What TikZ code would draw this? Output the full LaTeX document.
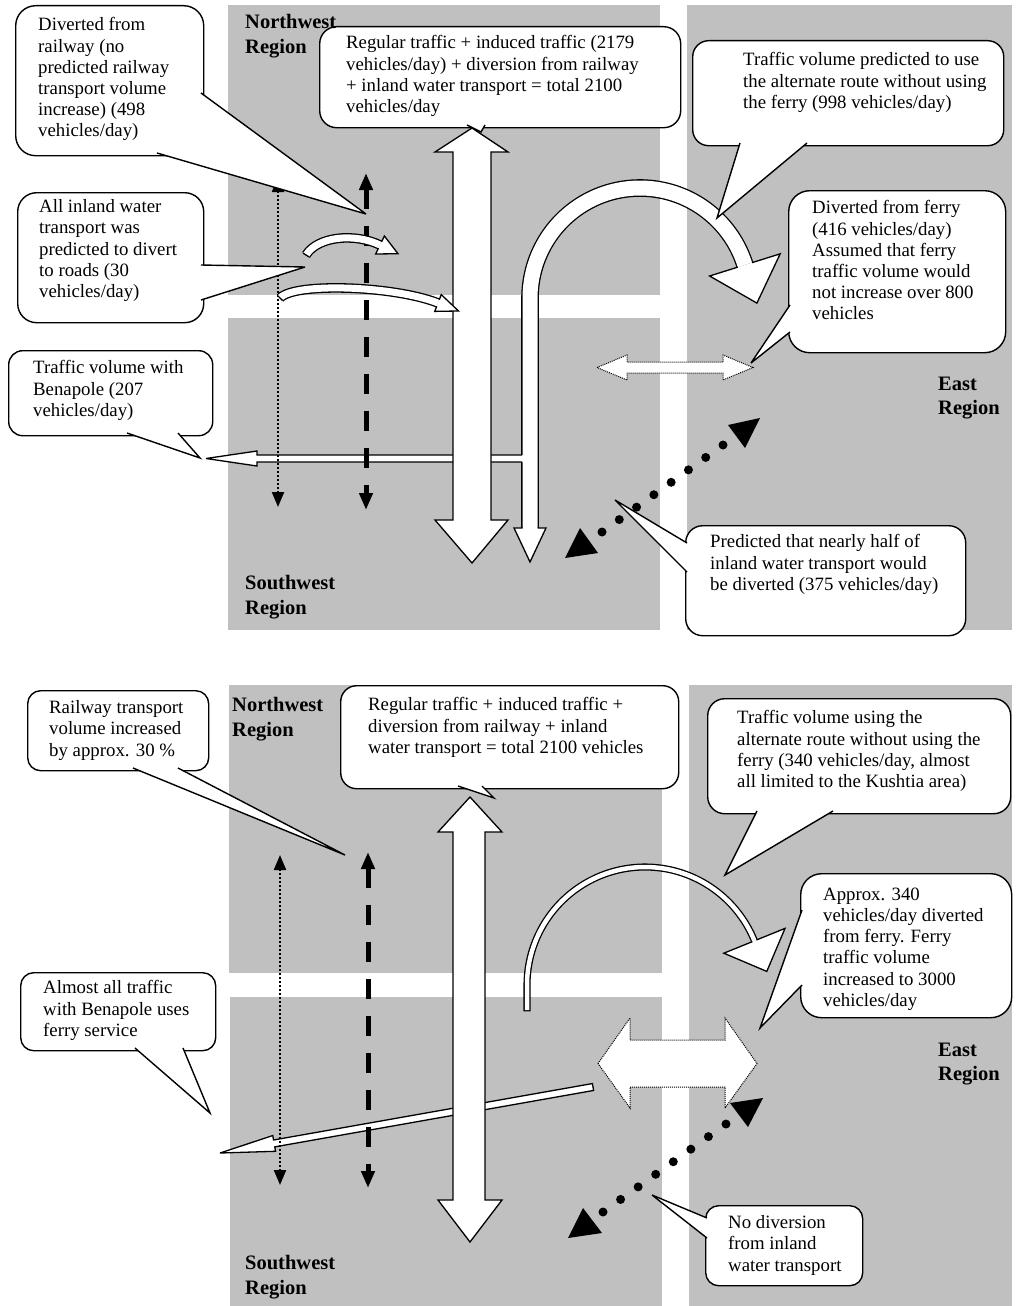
\documentclass[tikz,border=0pt]{standalone}
\usepackage{fontspec}
\setmainfont{Liberation Serif}
\usetikzlibrary{calc,arrows.meta}
\definecolor{regiongrey}{HTML}{C0C0C0}
\newcommand\calltail[3]{%
  \fill[white] (#1) -- (#2) -- (#3) -- cycle;
  \draw[tailline] (#1) -- (#2) -- (#3);}
\newcommand\hhead[4]{%
  \fill[white] ($(#1)!#3!90:(#2)$) -- ($(#1)!#4!90:(#2)$) -- (#2) -- ($(#1)!#4!-90:(#2)$) -- ($(#1)!#3!-90:(#2)$) -- cycle;
  \draw[outl] ($(#1)!#3!90:(#2)$) -- ($(#1)!#4!90:(#2)$) -- (#2) -- ($(#1)!#4!-90:(#2)$) -- ($(#1)!#3!-90:(#2)$);}
\begin{document}
\begin{tikzpicture}[x=1pt,y=-1pt,
  region/.style={fill=regiongrey, draw=none},
  cbox/.style={draw=black, fill=white, line width=1.4pt, inner sep=0pt, anchor=north west},
  ctext/.style={inner sep=0pt, anchor=north west, align=left, font=\fontsize{18.8}{21.2}\selectfont},
  rlabel/.style={inner sep=0pt, anchor=north west, align=left, font=\fontsize{20.5}{24.5}\selectfont\bfseries},
  outl/.style={draw=black, line width=1.3pt, line join=miter, miter limit=4},
  tailline/.style={draw=black, line width=1.4pt, line join=miter, miter limit=5},
  thindot/.style={line width=2.2pt, dash pattern=on 2pt off 2pt, {Triangle[width=12pt,length=15pt]}-{Triangle[width=12pt,length=15pt]}},
  thickdash/.style={line width=5pt, dash pattern=on 20pt off 17pt, {Triangle[width=13pt,length=17pt]}-{Triangle[width=13pt,length=17pt]}},
  bigdots/.style={line width=9pt, line cap=round},
  fineoutl/.style={draw=black, line width=1pt, dash pattern=on 1pt off 1pt, fill=white},
]
\useasboundingbox (0,0) rectangle (1015,1306);
\fill[white] (0,0) rectangle (1015,1306);

% ================= regions =================
\fill[region] (228,5) rectangle (660,295);
\fill[region] (228,318) rectangle (660,630);
\fill[region] (687,5) rectangle (1012,630);
\fill[region] (229,685) rectangle (662,973);
\fill[region] (230,997) rectangle (662,1306);
\fill[region] (689,685) rectangle (1012,1306);

% ================= TOP PANEL =================
% U-turn arrow
\draw[line width=17.6pt] (530,528) -- plot[domain=180:17.5,samples=90] ({640+110*cos(\x)},{298-110*sin(\x)});
\draw[line width=15pt, white] (530,528) -- plot[domain=180:17.5,samples=90] ({640+110*cos(\x)},{298-110*sin(\x)});
\hhead{530,528}{530,562}{7.5pt}{16pt}
\hhead{744.9,264.9}{756.9,303.1}{7.5pt}{37pt}
% Benapole arrow branching off the U-turn stem
\fill[white] (525,455) -- (257,455) -- (257,451) -- (206,458.5) -- (257,466) -- (257,462) -- (525,462) -- cycle;
\draw[outl] (522,455) -- (257,455) -- (257,451) -- (206,458.5) -- (257,466) -- (257,462) -- (522,462);
% big double arrow
\draw[outl, fill=white] (472,128) -- (508,152) -- (491,152) -- (491,520) -- (508,520) -- (472,563) -- (435,520) -- (453,520) -- (453,152) -- (435,152) -- cycle;
% railway arrows
\coordinate (a1t) at (278,177); \coordinate (a1b) at (278,507);
\draw[thindot] (a1t) -- (a1b);
\coordinate (a2t) at (366,173); \coordinate (a2b) at (366,510);
\draw[thickdash] (a2t) -- (a2b);
% small curved arrows (inland water transport)
\draw[line width=9.6pt] (306,255) .. controls (318,236) and (355,233) .. (380,245);
\draw[line width=7pt, white] (306,255) .. controls (318,236) and (355,233) .. (380,245);
\draw[outl] ($(306,255)!3.5pt!90:(318,236)$) -- ($(306,255)!3.5pt!-90:(318,236)$);
\hhead{380,245}{398,253.7}{3.5pt}{10pt}
\draw[line width=9.6pt] (280,298) .. controls (295,282) and (395,286) .. (438,303);
\draw[line width=7pt, white] (280,298) .. controls (295,282) and (395,286) .. (438,303);
\draw[outl] ($(280,298)!3.5pt!90:(295,282)$) -- ($(280,298)!3.5pt!-90:(295,282)$);
\hhead{438,303}{458.5,311}{3.5pt}{9pt}
% ferry double arrow (dotted outline)
\draw[fineoutl] (597,367.5) -- (627,355) -- (627,362) -- (723,362) -- (723,355) -- (753,367.5) -- (723,380) -- (723,373) -- (627,373) -- (627,380) -- cycle;
% inland water (big dots)
\draw[bigdots, dash pattern=on 0pt off 21.29pt] (602,532) -- (723.3,444.8);
\fill (760,418) -- (728,425) -- (745,448) -- cycle;
\fill (565,558) -- (598,553) -- (580,528) -- cycle;

% callouts top
\node[cbox, rounded corners=20pt, minimum width=188pt, minimum height=150pt] (c1) at (15,5) {};
\calltail{201,93}{366,214}{157,153}
\node[ctext] (c1t) at (38,17.5) {Diverted from\\railway (no\\predicted railway\\transport volume\\increase) (498\\vehicles/day)};

\node[cbox, rounded corners=19pt, minimum width=186pt, minimum height=130pt] (c2) at (17,192) {};
\calltail{201,265}{305,267}{201,300}
\node[ctext] (c2t) at (39,199.5) {All inland water\\transport was\\predicted to divert\\to roads (30\\vehicles/day)};

\node[cbox, rounded corners=17pt, minimum width=361pt, minimum height=101pt] (c3) at (319,26) {};
\calltail{467,125}{481,132}{485,125}
\node[ctext] (c3t) at (346,35.5) {Regular traffic + induced traffic (2179\\vehicles/day) + diversion from railway\\+ inland water transport = total 2100\\vehicles/day};

\node[cbox, rounded corners=16pt, minimum width=311pt, minimum height=105pt] (c4) at (692,40) {};
\calltail{740,143}{717,218}{807,143}
\node[ctext] (c4t) at (743,52.5) {Traffic volume predicted to use\\the alternate route without using\\the ferry (998 vehicles/day)};

\node[cbox, rounded corners=21pt, minimum width=217pt, minimum height=162pt] (c5) at (788,190) {};
\calltail{790,305}{751,363}{790,332}
\node[ctext] (c5t) at (812,200.5) {Diverted from ferry\\(416 vehicles/day)\\Assumed that ferry\\traffic volume would\\not increase over 800\\vehicles};

\node[cbox, rounded corners=14pt, minimum width=204pt, minimum height=85pt] (c6) at (8,350) {};
\calltail{127,433}{200,458}{178,433}
\node[ctext] (c6t) at (33,360.5) {Traffic volume with\\Benapole (207\\vehicles/day)};

\node[cbox, rounded corners=17pt, minimum width=280pt, minimum height=110pt] (c7) at (685,525) {};
\calltail{687,543}{615,500}{687,572}
\node[ctext] (c7t) at (710,534.5) {Predicted that nearly half of\\inland water transport would\\be diverted (375 vehicles/day)};

% region labels top
\node[rlabel] (nw1) at (245,14.5) {Northwest\\Region};
\node[rlabel] (sw1) at (245,575.5) {Southwest\\Region};
\node[rlabel] (e1) at (938,376.5) {East\\Region};

% ================= BOTTOM PANEL =================
% Benapole slanted arrow
\coordinate (b5s) at (593,1087); \coordinate (b5t) at (220,1153);
\coordinate (b5h) at ($(b5t)!55pt!(b5s)$);
\draw[outl, fill=white] ($(b5s)!3.5pt!90:(b5t)$) -- ($(b5h)!3.5pt!90:(b5t)$) -- ($(b5h)!8pt!90:(b5t)$) -- (b5t) -- ($(b5h)!8pt!-90:(b5t)$) -- ($(b5h)!3.5pt!-90:(b5t)$) -- ($(b5s)!3.5pt!-90:(b5t)$) -- cycle;
% big double arrow
\draw[outl, fill=white] (470,797) -- (502,832) -- (485,832) -- (485,1200) -- (502,1200) -- (470,1242) -- (438,1200) -- (453,1200) -- (453,832) -- (438,832) -- cycle;
% thin U arc
\draw[line width=7.1pt] (527,1011.3) -- plot[domain=180:22,samples=90] ({645+118*cos(\x)},{985-118*sin(\x)});
\draw[line width=4.5pt, white] (527,1010) -- plot[domain=180:22,samples=90] ({645+118*cos(\x)},{985-118*sin(\x)});
\hhead{754.4,940.8}{766.8,971.4}{2.25pt}{33pt}
% railway arrows
\coordinate (b1t) at (280,855); \coordinate (b1b) at (280,1185);
\draw[thindot] (b1t) -- (b1b);
\coordinate (b2t) at (368,852); \coordinate (b2b) at (368,1188);
\draw[thickdash] (b2t) -- (b2b);
% ferry double arrow (dotted outline)
\draw[fineoutl] (598,1063.5) -- (630,1018) -- (630,1040) -- (725,1040) -- (725,1018) -- (757,1063.5) -- (725,1108) -- (725,1087) -- (630,1087) -- (630,1108) -- cycle;
% inland water (big dots)
\draw[bigdots, dash pattern=on 0pt off 21.6pt] (603,1212) -- (726.3,1123.8);
\fill (763,1098) -- (730,1103) -- (748,1127) -- cycle;
\fill (568,1238) -- (602,1233) -- (583,1208) -- cycle;

% callouts bottom
\node[cbox, rounded corners=13pt, minimum width=181pt, minimum height=80pt] (c8) at (27,690) {};
\calltail{133,768}{345,855}{178,768}
\node[ctext] (c8t) at (49,700.5) {Railway transport\\volume increased\\by approx. 30 \%};

\node[cbox, rounded corners=16pt, minimum width=338pt, minimum height=103pt] (c9) at (340,685) {};
\calltail{458,786}{494,798}{482,786}
\node[ctext] (c9t) at (368,697.5) {Regular traffic + induced traffic +\\diversion from railway + inland\\water transport = total 2100 vehicles};

\node[cbox, rounded corners=17pt, minimum width=303pt, minimum height=115pt] (c10) at (707,698) {};
\calltail{757,811}{725,875}{833,811}
\node[ctext] (c10t) at (737,710.5) {Traffic volume using the\\alternate route without using the\\ferry (340 vehicles/day, almost\\all limited to the Kushtia area)};

\node[cbox, rounded corners=21pt, minimum width=211pt, minimum height=144pt] (c11) at (800,873) {};
\calltail{802,910}{760,1028}{802,985}
\node[ctext] (c11t) at (823,887.5) {Approx. 340\\vehicles/day diverted\\from ferry. Ferry\\traffic volume\\increased to 3000\\vehicles/day};

\node[cbox, rounded corners=13pt, minimum width=195pt, minimum height=78pt] (c12) at (20,972) {};
\calltail{135,1048}{210,1113}{183,1048}
\node[ctext] (c12t) at (43,980.5) {Almost all traffic\\with Benapole uses\\ferry service};

\node[cbox, rounded corners=13pt, minimum width=157pt, minimum height=80pt] (c13) at (705,1205) {};
\calltail{707,1218}{652,1195}{707,1238}
\node[ctext] (c13t) at (728,1215.5) {No diversion\\from inland\\water transport};

% region labels bottom
\node[rlabel] (nw2) at (232,697.5) {Northwest\\Region};
\node[rlabel] (sw2) at (245,1255.5) {Southwest\\Region};
\node[rlabel] (e2) at (938,1042.5) {East\\Region};
\end{tikzpicture}
\end{document}
